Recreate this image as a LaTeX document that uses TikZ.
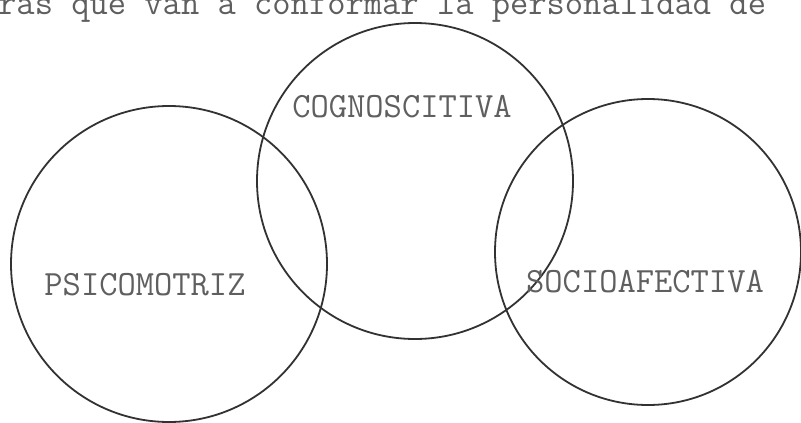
\documentclass[tikz,border=0pt]{standalone}
\usepackage{fontspec}
\newfontfamily\typew{Latin Modern Mono}
\definecolor{inkc}{RGB}{50,50,50}
\definecolor{typec}{RGB}{95,95,95}
\tikzset{
  ring/.style={circle, draw=inkc, line width=1.8pt, inner sep=0pt, minimum size=#1},
  lbl/.style={font=\typew\fontsize{35.5}{35.5}\selectfont, text=typec, inner sep=0pt},
}
\begin{document}
\begin{tikzpicture}[x=1pt,y=-1pt]
\useasboundingbox (0,0) rectangle (801,423);
\fill[white] (0,0) rectangle (801,423);
\node[lbl, anchor=base west] (top) at (-2,15) {ras que van a conformar la personalidad de};
\node[ring=316pt] (psi) at (169,264) {};
\node[ring=316pt] (cog) at (415,181) {};
\node[ring=306pt] (soc) at (648,252) {};
\node[lbl] (tcog) at (402,107) {COGNOSCITIVA};
\node[lbl] (tpsi) at (145,285) {PSICOMOTRIZ};
\node[lbl] (tsoc) at (645,282) {SOCIOAFECTIVA};
\end{tikzpicture}
\end{document}
